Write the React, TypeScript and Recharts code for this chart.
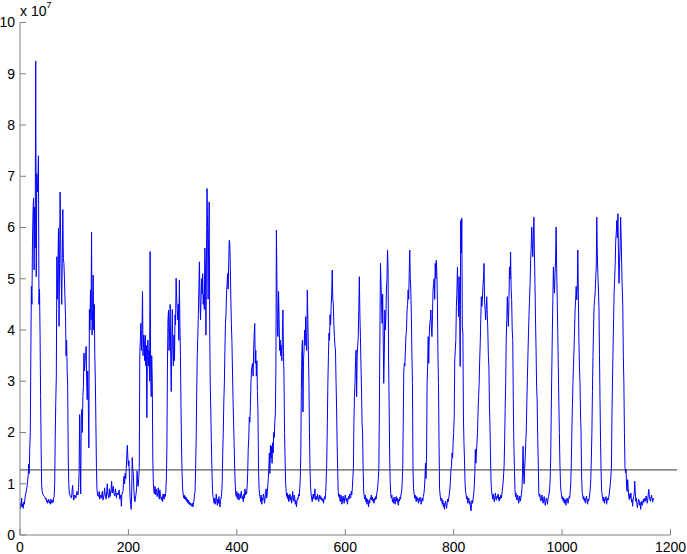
import React from 'react';
import { LineChart, Line, XAxis, YAxis, ReferenceLine } from 'recharts';

type Pt = [number, number];

// values are in units of 10^7
const xTicks = [0, 200, 400, 600, 800, 1000, 1200];
const yTicks = [0, 1, 2, 3, 4, 5, 6, 7, 8, 9, 10];
const threshold = 1.27;
const thresholdStart = 0;
const thresholdEnd = 1212;
const exponent = '7';

const seg01: Pt[] = [[0,0.5],[1,0.62],[2,0.55],[3,0.72],[4,0.56],[5,0.6],[6,0.52],[7,0.64],[8,0.6],[9,0.7],[10,0.78],[11,0.82],[12,0.88],[13,0.95],[14,1.05],[15,1.15],[16,1.38],[17,1.2],[18,1.7],[19,2.0],[20,3.5],[21,4.85],[22,4.5],[23,5.7],[24,6.3],[25,6.57],[26,5.17],[27,6.4],[28,5.6],[28.5,7.47],[29,9.25],[30,5.04],[31,7.05],[32,6.7],[33,6.9],[34,7.4],[35,4.5],[36,4.8],[37,3.94],[38,2.7],[39,1.67],[40,0.95],[41,0.85],[42,0.8],[43,0.78],[44,0.76],[46,0.74],[47,0.7],[48,0.72],[49,0.65],[50,0.68],[51,0.62],[52,0.66],[53,0.7],[54,0.63],[55,0.66],[56,0.6],[57,0.7],[58,0.64],[59,0.62],[60,0.68],[61,0.64],[62,0.72]];
const seg02: Pt[] = [[63,0.75],[64,1.0],[65,1.93],[66,2.6],[67,3.1],[68,5.43],[69,4.6],[70,5.2],[71,5.99],[72,4.07],[73,5.3],[74,6.69],[75,5.8],[76,5.0],[77,4.5],[78,5.4],[79,6.35],[80,5.4],[81,5.3],[82,5.0],[83,4.6],[84,4.26],[85,3.5],[86,3.8],[87,3.2],[88,2.9],[89,1.5],[90,1.0],[91,0.8],[93,0.76],[95,0.72],[97,0.97],[98,0.8],[99,0.68],[101,0.78],[103,0.72],[105,0.85],[107,0.78],[108,0.92],[109,1.2],[110,2.35],[111,1.5],[112,0.8],[113,2.3],[114,2.45],[115,2.0],[116,2.7],[117,2.9],[118,3.55],[119,3.2],[120,3.4],[121,3.5],[122,3.68],[123,3.0],[124,2.64],[125,3.2],[126,2.6],[127,1.7],[128,4.4],[129,4.0],[130,4.78],[131,4.2],[132,5.91],[133,3.9],[134,4.4],[135,5.07],[136,4.0],[137,4.5],[138,3.5],[139,3.0],[140,2.19],[141,1.32],[142,0.9],[143,0.78]];
const seg03: Pt[] = [[145,0.75],[146,0.85],[147,0.7],[149,0.78],[150,0.72],[152,0.85],[153,0.68],[155,0.78],[156,0.92],[157,0.8],[159,0.7],[160,0.85],[161,1.0],[162,0.8],[164,0.72],[165,0.9],[166,0.75],[168,0.88],[169,1.05],[170,0.82],[172,0.95],[173,0.82],[175,0.76],[176,0.9],[178,0.72],[179,0.82],[181,0.78],[183,0.88],[184,0.7],[186,0.78],[187,0.56],[188,0.8],[190,0.85],[191,1.05],[192,1.15],[193,1.0],[194,1.2],[195,1.1],[196,1.3],[197,1.55],[198,1.75],[199,1.5],[200,1.35],[201,1.45],[202,1.1],[203,0.75],[204,0.6],[205,0.5],[206,0.8],[207,1.51],[208,1.3],[209,1.2],[210,0.9],[211,0.7],[212,0.65],[213,0.72],[214,0.8],[215,0.9],[216,1.25],[217,1.0],[218,0.95],[219,1.1],[220,1.3]];
const seg04: Pt[] = [[221,3.5],[222,3.8],[223,4.13],[224,3.6],[225,4.0],[226,4.75],[227,3.5],[228,3.9],[229,3.8],[230,3.4],[231,3.9],[232,3.3],[233,3.7],[234,2.29],[235,3.5],[236,3.8],[237,3.3],[238,3.6],[239,3.0],[240,5.53],[241,3.2],[242,2.7],[243,3.5],[244,3.0],[245,1.5],[246,1.0],[247,0.85]];
const seg05: Pt[] = [[248,0.8],[249,0.95],[250,0.78],[251,0.9],[252,0.85],[253,0.75],[254,0.8],[255,0.92],[256,0.78],[257,0.7],[258,0.88],[259,0.75],[260,0.72],[261,0.68],[262,0.75],[263,0.65],[264,0.8],[265,0.72],[266,0.7],[267,0.8],[268,0.75],[269,0.85],[270,1.1]];
const seg06: Pt[] = [[271,1.7],[272,3.3],[273,4.2],[274,4.39],[275,3.6],[276,4.0],[277,4.5],[278,3.5],[279,2.8],[280,3.8],[281,4.4],[282,3.6],[283,3.3],[284,3.9],[285,3.4],[286,4.3],[287,4.1],[288,5.01],[289,4.65],[290,4.4],[291,4.2],[292,4.5],[293,3.8],[294,4.97],[295,4.1],[296,3.5],[297,2.5],[298,1.7],[299,1.2],[300,0.9]];
const seg07: Pt[] = [[301,0.8],[302,0.72],[303,0.78],[304,0.7],[305,0.75],[306,0.68],[307,0.73],[308,0.65],[309,0.7],[310,0.62],[311,0.68],[312,0.6],[313,0.64],[314,0.58],[315,0.62],[316,0.6],[317,0.56],[318,0.62],[319,0.55],[320,0.6],[321,0.68],[322,0.8],[323,0.85],[324,1.3],[325,1.9],[326,2.8]];
const seg08: Pt[] = [[327,3.5],[328,3.87],[329,4.3],[330,4.8],[331,5.33],[332,4.6],[333,4.2],[334,4.6],[335,5.0],[336,4.7],[337,5.1],[338,4.5],[339,4.7],[340,4.4],[341,5.6],[342,5.2],[343,3.9],[344,5.4],[345,6.76],[346,6.0],[347,4.6],[348,5.8],[349,6.5],[350,4.0],[351,2.9],[352,2.4],[353,1.83],[354,1.3],[355,0.9]];
const seg09: Pt[] = [[356,0.75],[357,0.7],[358,0.62],[359,0.72],[360,0.6],[361,0.66],[362,0.8],[363,0.68],[364,0.58],[365,0.7],[366,0.62],[367,0.75],[368,0.6],[369,0.55],[370,0.68],[371,0.72],[372,0.8],[373,1.0]];
const seg10: Pt[] = [[374,1.6],[375,2.0],[376,2.6],[377,2.97],[378,3.6],[379,4.13],[380,4.3],[381,4.7],[382,4.9],[383,5.1],[384,4.8],[385,5.3],[386,5.75],[387,5.7],[388,5.2],[389,4.59],[390,4.1],[391,3.75],[392,3.2],[393,2.64],[394,2.2],[395,1.8],[396,1.3],[397,1.0]];
const seg11: Pt[] = [[398,0.8],[399,0.75],[400,0.85],[401,0.7],[402,0.78],[403,0.82],[404,0.68],[405,0.75],[406,0.8],[407,0.72],[408,0.85],[409,0.78],[410,0.7],[411,0.75],[412,0.65],[413,0.8],[414,0.72],[415,0.9],[416,0.78],[417,0.85],[418,0.8],[419,0.95],[420,1.2]];
const seg12: Pt[] = [[421,1.67],[422,1.9],[423,2.3],[424,2.2],[425,2.5],[426,2.97],[427,3.2],[428,3.29],[429,3.35],[430,3.1],[431,3.6],[432,3.9],[433,4.13],[434,3.35],[435,3.6],[436,3.1],[437,3.4],[438,2.8],[439,2.4],[440,1.28],[441,0.9]];
const seg13: Pt[] = [[442,0.8],[443,0.72],[444,0.65],[445,0.78],[446,0.6],[447,0.72],[448,0.68],[449,0.8],[450,0.75],[451,0.62],[452,0.7],[453,0.85],[454,0.9],[455,0.72],[456,0.8],[457,0.95],[458,1.1]];
const seg14: Pt[] = [[459,1.3],[460,1.6],[461,1.2],[462,1.75],[463,1.5],[464,1.73],[465,1.4],[466,1.8],[467,1.6],[468,2.0],[469,1.9],[470,2.2],[471,2.34],[472,3.2],[473,5.95],[474,4.9],[475,3.9],[476,3.87],[477,4.75],[478,4.2],[479,3.6],[480,3.8],[481,3.5],[482,3.7],[483,3.4],[484,3.9],[485,4.39],[486,3.6],[487,3.1],[488,2.0],[489,1.5],[490,1.02],[491,0.85]];
const seg15: Pt[] = [[492,0.75],[493,0.82],[494,0.7],[495,0.78],[496,0.65],[497,0.72],[498,0.8],[499,0.68],[500,0.75],[501,0.62],[502,0.7],[503,0.85],[504,0.72],[505,0.66],[506,0.78],[507,0.7],[508,0.6],[509,0.68],[510,0.55],[511,0.65],[512,0.72],[513,0.7],[514,0.8],[515,0.76],[516,0.9],[517,1.1]];
const seg16: Pt[] = [[518,1.6],[519,2.8],[520,3.6],[521,3.8],[522,2.4],[523,3.4],[524,3.61],[525,4.0],[526,3.7],[527,4.26],[528,3.8],[529,3.6],[530,4.78],[531,4.2],[532,3.6],[533,3.0],[534,2.0],[535,1.28],[536,0.95]];
const seg17: Pt[] = [[537,0.8],[538,0.72],[539,0.65],[540,0.75],[541,0.8],[542,0.7],[543,0.78],[544,0.9],[545,0.72],[546,0.68],[547,0.75],[548,0.7],[549,0.8],[550,0.72],[551,0.65],[552,0.72],[553,0.78],[554,0.7],[555,0.75],[556,0.68],[557,0.72],[558,0.66],[559,0.7],[560,0.62],[561,0.72],[562,0.75],[563,0.7],[564,0.85],[565,1.1]];
const seg18: Pt[] = [[566,1.5],[567,2.2],[568,3.0],[569,3.5],[570,3.94],[571,3.8],[572,4.3],[573,4.1],[574,4.46],[575,4.7],[576,5.17],[577,4.6],[578,4.52],[579,4.1],[580,3.87],[581,3.7],[582,3.61],[583,3.0],[584,2.5],[585,1.8],[586,1.28],[587,0.85]];
const seg19: Pt[] = [[588,0.75],[589,0.8],[590,0.7],[591,0.65],[592,0.78],[593,0.72],[594,0.6],[595,0.7],[596,0.76],[597,0.68],[598,0.62],[599,0.72],[600,0.78],[601,0.7],[602,0.66],[603,0.72],[604,0.6],[605,0.68],[606,0.75],[607,0.7],[608,0.8],[609,0.75],[610,0.72],[611,0.85],[612,0.78],[613,0.9],[614,1.1]];
const seg20: Pt[] = [[615,1.3],[616,2.2],[617,2.7],[618,2.96],[619,3.4],[620,3.61],[621,2.7],[622,3.5],[623,3.7],[624,3.87],[625,4.4],[626,5.04],[627,4.3],[628,3.87],[629,3.3],[630,2.83],[631,2.2],[632,1.99],[633,1.28],[634,0.85]];
const seg21: Pt[] = [[635,0.75],[636,0.7],[637,0.78],[638,0.65],[639,0.72],[640,0.6],[641,0.7],[642,0.66],[643,0.55],[644,0.68],[645,0.62],[646,0.72],[647,0.7],[648,0.78],[649,0.68],[650,0.74],[651,0.66],[652,0.7],[653,0.62],[654,0.72],[655,0.68],[656,0.75],[657,0.7],[658,0.8],[659,0.85],[660,0.95],[661,1.1]];
const seg22: Pt[] = [[662,1.3],[663,2.5],[664,4.0],[665,5.3],[666,4.91],[667,4.5],[668,4.13],[669,4.7],[670,3.9],[671,2.96],[672,3.5],[673,4.39],[674,4.0],[675,4.26],[676,4.8],[677,5.0],[678,5.56],[679,5.2],[680,3.35],[681,2.5],[682,1.5],[683,1.0]];
const seg23: Pt[] = [[684,0.8],[685,0.72],[686,0.78],[687,0.65],[688,0.7],[689,0.62],[690,0.74],[691,0.68],[692,0.6],[693,0.7],[694,0.75],[695,0.66],[696,0.72],[697,0.62],[698,0.58],[699,0.7],[700,0.66],[701,0.74],[702,0.7],[703,0.8],[704,0.85],[705,1.0]];
const seg24: Pt[] = [[706,1.3],[707,2.2],[708,3.2],[709,3.35],[710,3.3],[711,3.61],[712,3.9],[713,4.0],[714,4.39],[715,4.5],[716,4.78],[717,4.6],[718,5.1],[719,5.56],[720,5.0],[721,4.78],[722,4.26],[723,3.5],[724,2.96],[725,1.28],[726,0.9]];
const seg25: Pt[] = [[727,0.8],[728,0.72],[729,0.78],[730,0.7],[731,0.65],[732,0.75],[733,0.68],[734,0.72],[735,0.62],[736,0.7],[737,0.66],[738,0.74],[739,0.7],[740,0.6],[741,0.68],[742,0.72],[743,0.66],[744,0.75],[745,0.8],[746,0.9],[747,1.1]];
const seg26: Pt[] = [[748,1.4],[749,1.1],[750,1.6],[751,2.96],[752,3.3],[753,3.87],[754,3.35],[755,3.9],[756,4.13],[757,4.2],[758,4.39],[759,4.0],[760,3.87],[761,4.3],[762,4.78],[763,4.9],[764,5.0],[765,4.6],[766,5.3],[767,5.0],[768,5.36],[769,5.1],[770,4.58],[771,3.5],[772,2.96],[773,1.8],[774,0.9]];
const seg27: Pt[] = [[775,0.78],[776,0.7],[777,0.66],[778,0.72],[779,0.6],[780,0.68],[781,0.55],[782,0.62],[783,0.5],[784,0.6],[785,0.66],[786,0.58],[787,0.52],[788,0.62],[789,0.7],[790,0.65],[791,0.72],[792,0.8],[793,0.9],[794,1.05]];
const seg28: Pt[] = [[795,1.28],[796,1.34],[797,1.6],[798,1.5],[799,1.8],[800,2.0],[801,2.3],[802,3.42],[803,3.6],[804,3.81],[805,4.46],[806,4.72],[807,5.23],[808,4.8],[809,4.26],[810,5.04],[811,4.5],[812,3.29],[813,6.14],[814,5.5],[815,6.18],[816,4.07],[817,3.94],[818,2.32],[819,1.8],[820,1.47],[821,1.02],[822,0.85]];
const seg29: Pt[] = [[823,0.78],[824,0.7],[825,0.75],[826,0.62],[827,0.68],[828,0.72],[829,0.6],[830,0.66],[831,0.55],[832,0.47],[833,0.6],[834,0.68],[835,0.62],[836,0.72],[837,0.8],[838,0.95],[839,1.2]];
const seg30: Pt[] = [[840,1.67],[841,1.4],[842,1.6],[843,1.8],[844,2.0],[845,2.4],[846,2.7],[847,2.96],[848,3.4],[849,3.74],[850,4.2],[851,4.65],[852,4.46],[853,4.6],[854,4.85],[855,5.0],[856,5.3],[857,4.59],[858,4.4],[859,4.2],[860,4.4],[861,4.65],[862,4.3],[863,4.0],[864,3.5],[865,3.29],[866,2.5],[867,2.12],[868,1.5],[869,1.02],[870,0.85]];
const seg31: Pt[] = [[871,0.78],[872,0.7],[873,0.8],[874,0.72],[875,0.65],[876,0.74],[877,0.82],[878,0.7],[879,0.68],[880,0.76],[881,0.72],[882,0.8],[883,0.7],[884,0.66],[885,0.74],[886,0.7],[887,0.78],[888,0.72],[889,0.8],[890,0.9],[891,1.0],[892,1.15]];
const seg32: Pt[] = [[893,1.34],[894,1.8],[895,2.45],[896,3.0],[897,3.81],[898,4.2],[899,4.65],[900,4.3],[901,4.07],[902,4.6],[903,5.23],[904,5.0],[905,5.52],[906,4.8],[907,4.59],[908,4.0],[909,3.81],[910,2.64],[911,1.8],[912,1.34],[913,0.89]];
const seg33: Pt[] = [[914,0.75],[915,0.82],[916,0.7],[917,0.68],[918,0.78],[919,0.72],[920,0.62],[921,0.7],[922,0.76],[923,0.66],[924,0.72],[925,0.8],[926,0.9],[927,1.2]];
const seg34: Pt[] = [[928,1.73],[929,1.21],[930,1.0],[931,1.3],[932,1.54],[933,1.8],[934,2.05],[935,2.6],[936,3.03],[937,3.5],[938,3.94],[939,4.3],[940,4.6],[941,4.91],[942,5.36],[943,5.6],[944,6.01],[945,5.7],[946,5.43],[947,5.8],[948,6.2],[949,5.5],[950,4.91],[951,4.2],[952,3.61],[953,2.9],[954,2.64],[955,1.9],[956,1.47],[957,0.82]];
const seg35: Pt[] = [[958,0.75],[959,0.8],[960,0.7],[961,0.66],[962,0.72],[963,0.78],[964,0.68],[965,0.62],[966,0.7],[967,0.75],[968,0.66],[969,0.58],[970,0.66],[971,0.72],[972,0.68],[973,0.6],[974,0.7],[975,0.75],[976,0.8],[977,0.9],[978,1.1],[979,1.5]];
const seg36: Pt[] = [[980,2.38],[981,3.2],[982,3.94],[983,4.6],[984,5.23],[985,4.9],[986,4.72],[987,5.1],[988,5.36],[989,6.01],[990,5.2],[991,4.59],[992,4.0],[993,3.29],[994,2.6],[995,2.0],[996,1.4],[997,1.02],[998,0.85]];
const seg37: Pt[] = [[999,0.78],[1000,0.7],[1001,0.75],[1002,0.66],[1003,0.72],[1004,0.62],[1005,0.7],[1006,0.68],[1007,0.58],[1008,0.66],[1009,0.72],[1010,0.7],[1011,0.62],[1012,0.68],[1013,0.75],[1014,0.72],[1015,0.85],[1016,1.0],[1017,1.4]];
const seg38: Pt[] = [[1018,2.0],[1019,2.5],[1020,2.96],[1021,3.3],[1022,3.61],[1023,4.0],[1024,4.39],[1025,4.6],[1026,4.85],[1027,4.59],[1028,4.8],[1029,5.56],[1030,4.7],[1031,3.81],[1032,3.3],[1033,2.96],[1034,2.4],[1035,2.0],[1036,1.15],[1037,0.85]];
const seg39: Pt[] = [[1038,0.78],[1039,0.7],[1040,0.75],[1041,0.66],[1042,0.72],[1043,0.62],[1044,0.7],[1045,0.76],[1046,0.68],[1047,0.6],[1048,0.7],[1049,0.66],[1050,0.72],[1051,0.8],[1052,0.9],[1053,1.1],[1054,1.5]];
const seg40: Pt[] = [[1055,2.0],[1056,2.8],[1057,3.48],[1058,4.0],[1059,4.46],[1060,4.6],[1061,4.72],[1062,5.0],[1063,5.23],[1064,6.2],[1065,5.5],[1066,5.1],[1067,4.8],[1068,4.46],[1069,3.5],[1070,2.64],[1071,1.8],[1072,1.21],[1073,0.85]];
const seg41: Pt[] = [[1074,0.78],[1075,0.7],[1076,0.66],[1077,0.74],[1078,0.62],[1079,0.7],[1080,0.68],[1081,0.75],[1082,0.6],[1083,0.66],[1084,0.72],[1085,0.68],[1086,0.74],[1087,0.8],[1088,0.9],[1089,1.0],[1090,1.15]];
const seg42: Pt[] = [[1091,1.3],[1092,2.32],[1093,3.0],[1094,3.61],[1095,4.2],[1096,4.72],[1097,5.0],[1098,5.3],[1099,5.75],[1100,5.9],[1101,6.14],[1102,5.8],[1103,6.27],[1104,5.5],[1105,4.91],[1106,5.3],[1107,5.62],[1108,6.2],[1109,5.8],[1110,5.23],[1111,4.8],[1112,4.46],[1113,3.5],[1114,2.96],[1115,2.0],[1116,1.34],[1117,1.21]];
const seg43: Pt[] = [[1118,1.28],[1119,0.95],[1120,0.85],[1121,1.08],[1122,0.9],[1123,0.75],[1124,0.69],[1125,0.8],[1126,0.72],[1127,0.82],[1128,0.65],[1129,0.7],[1130,0.56],[1131,0.68],[1132,0.75],[1133,0.8],[1134,1.05],[1135,0.85],[1136,0.66],[1137,0.72],[1138,0.6],[1139,0.53],[1140,0.62],[1141,0.7],[1142,0.68],[1143,0.58],[1144,0.64],[1145,0.5],[1146,0.6],[1147,0.66],[1148,0.58],[1149,0.62],[1150,0.7],[1151,0.64],[1152,0.68],[1153,0.72],[1154,0.66],[1155,0.76],[1156,0.7],[1157,0.62],[1158,0.68],[1159,0.8],[1160,0.89],[1161,0.75],[1162,0.7],[1163,0.66],[1164,0.74],[1165,0.78],[1166,0.7],[1167,0.64],[1168,0.72],[1169,0.69]];

const segments: Pt[][] = [seg01, seg02, seg03, seg04, seg05, seg06, seg07, seg08, seg09, seg10, seg11, seg12, seg13, seg14, seg15, seg16, seg17, seg18, seg19, seg20, seg21, seg22, seg23, seg24, seg25, seg26, seg27, seg28, seg29, seg30, seg31, seg32, seg33, seg34, seg35, seg36, seg37, seg38, seg39, seg40, seg41, seg42, seg43];

const data = segments.flat().map(([x, v]) => ({ x, v }));

const FONT = '"Liberation Sans", Arial, Helvetica, sans-serif';
const AXIS = '#808080';

export default function App() {
  return (
    <div style={{ position: 'absolute', left: 0, top: 0, width: 687, height: 554, background: '#fff' }}>
      <LineChart width={687} height={554} data={data} margin={{ top: 22.5, right: 16.5, bottom: 0, left: 0 }}>
        <XAxis
          xAxisId="b"
          dataKey="x"
          type="number"
          domain={[0, 1200]}
          ticks={xTicks}
          interval={0}
          orientation="bottom"
          height={19}
          tickSize={-6}
          tickMargin={13}
          stroke={AXIS}
          tick={{ fill: '#000', fontSize: 14, fontFamily: FONT }}
          allowDataOverflow
        />
        <XAxis
          xAxisId="t"
          type="number"
          domain={[0, 1200]}
          ticks={xTicks}
          interval={0}
          orientation="top"
          height={0}
          tickSize={-6}
          tick={false}
          stroke={AXIS}
          allowDataOverflow
        />
        <YAxis
          yAxisId="l"
          type="number"
          domain={[0, 10]}
          ticks={yTicks}
          interval={0}
          width={20}
          tickSize={-6}
          tickMargin={11}
          stroke={AXIS}
          tick={{ fill: '#000', fontSize: 14, fontFamily: FONT }}
          allowDataOverflow
        />
        <YAxis
          yAxisId="r"
          type="number"
          orientation="right"
          domain={[0, 10]}
          ticks={yTicks}
          interval={0}
          width={0}
          tickSize={-6}
          tick={false}
          stroke={AXIS}
          allowDataOverflow
        />
        <Line
          xAxisId="b"
          yAxisId="l"
          dataKey="v"
          type="linear"
          stroke="#0000ff"
          strokeWidth={1}
          dot={false}
          activeDot={false}
          isAnimationActive={false}
        />
        <ReferenceLine
          xAxisId="b"
          yAxisId="l"
          segment={[{ x: thresholdStart, y: threshold }, { x: thresholdEnd, y: threshold }]}
          stroke="#333333"
          strokeWidth={1}
          ifOverflow="visible"
        />
      </LineChart>
      <svg width={687} height={554} style={{ position: 'absolute', left: 0, top: 0, pointerEvents: 'none' }}>
        <text x={20} y={16} fontSize={14} fontFamily={FONT} fill="#000">x 10</text>
        <text x={46.5} y={8} fontSize={9} fontFamily={FONT} fill="#000">{exponent}</text>
      </svg>
    </div>
  );
}
